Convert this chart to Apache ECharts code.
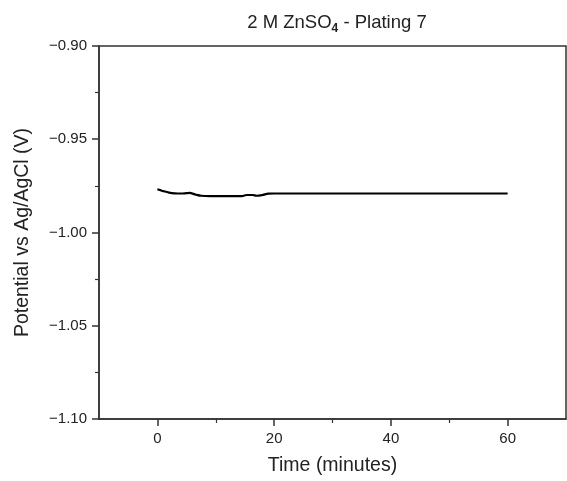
<!DOCTYPE html>
<html><head><meta charset="utf-8">
<script src="https://cdn.jsdelivr.net/npm/echarts@6/dist/echarts.min.js"></script>
<style>html,body{margin:0;padding:0;background:#fff}#c{width:567px;height:481px}</style>
</head><body><div id="c"></div>
<script>
const times = [0, 0.5, 1, 2, 3, 4, 5, 5.5, 6.5, 7.5, 9, 12, 14.5, 15.3, 16.3, 17, 18, 19, 20, 30, 40, 50, 60];
const potentials = [-0.9768, -0.9773, -0.9778, -0.9786, -0.9790, -0.9791, -0.9789, -0.9788, -0.9796, -0.9803, -0.9805, -0.9805, -0.9805, -0.9799, -0.9799, -0.9803, -0.9799, -0.9792, -0.9791, -0.9791, -0.9791, -0.9791, -0.9791];
const xMajorTicks = [0, 20, 40, 60];
const xMinorTicks = [10, 30, 50];
const chart = echarts.init(document.getElementById('c'));
const axisColor = '#333';
const font = 'Arial, Liberation Sans';
const fmtY = v => (v < 0 ? '\u2212' : '') + Math.abs(v).toFixed(2);
chart.setOption({
  animation: false,
  title: {
    text: '{a|2 M ZnSO}{s|4}{a| - Plating 7}',
    left: 332, top: 8, textAlign: 'center',
    textStyle: { rich: {
      a: { fontFamily: font, fontSize: 18.5, color: '#222', fontWeight: 'normal', verticalAlign: 'top', lineHeight: 20 },
      s: { fontFamily: font, fontSize: 12, color: '#222', verticalAlign: 'top', lineHeight: 12, padding: [10, 0, 0, 0] }
    } }
  },
  grid: { left: 99, right: 1, top: 46, bottom: 59, show: true, borderColor: axisColor, borderWidth: 1.5, backgroundColor: 'transparent' },
  xAxis: [{
    type: 'value', min: -10, max: 70, interval: 20,
    name: 'Time (minutes)', nameLocation: 'middle', nameGap: 37,
    nameTextStyle: { fontFamily: font, fontSize: 19.5, color: '#222' },
    axisLine: { show: true, onZero: false, lineStyle: { color: axisColor, width: 1.5 } },
    axisTick: { show: true, length: 7, lineStyle: { color: axisColor, width: 1.5 }, customValues: xMajorTicks },
    minorTick: { show: false },
    axisLabel: { fontFamily: font, fontSize: 15, color: '#222', margin: 12, customValues: xMajorTicks },
    splitLine: { show: false }
  }, {
    type: 'value', min: -10, max: 70, position: 'bottom', gridIndex: 0,
    axisLine: { show: false }, axisLabel: { show: false }, splitLine: { show: false },
    axisTick: { show: true, length: 4, lineStyle: { color: axisColor, width: 1.2 }, customValues: xMinorTicks }
  }],
  yAxis: {
    type: 'value', min: -1.10, max: -0.90, interval: 0.05,
    name: 'Potential vs Ag/AgCl (V)', nameLocation: 'middle', nameGap: 66,
    nameTextStyle: { fontFamily: font, fontSize: 19.5, color: '#222' },
    axisLine: { show: true, onZero: false, lineStyle: { color: axisColor, width: 1.5 } },
    axisTick: { show: true, length: 7, lineStyle: { color: axisColor, width: 1.5 } },
    minorTick: { show: true, splitNumber: 2, length: 4, lineStyle: { color: axisColor, width: 1.2 } },
    axisLabel: { fontFamily: font, fontSize: 15, color: '#222', margin: 12, formatter: fmtY },
    splitLine: { show: false }
  },
  series: [{
    type: 'line', data: times.map((t, i) => [t, potentials[i]]),
    showSymbol: false, symbol: 'none', smooth: 0.3,
    lineStyle: { color: '#000', width: 2.2 }
  }]
});
</script></body></html>
